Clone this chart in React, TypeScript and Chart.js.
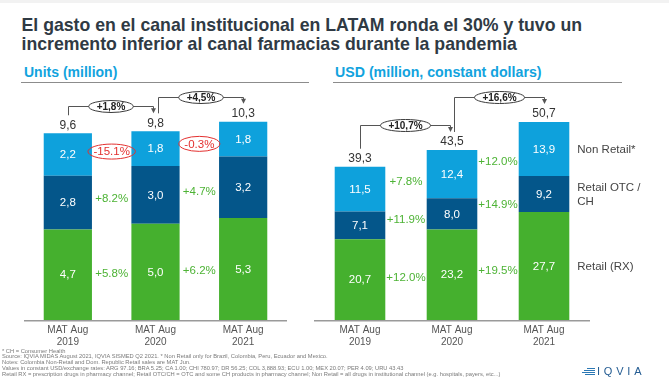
import React, { useEffect, useRef } from "react";
import { Chart, registerables } from "chart.js";

Chart.register(...registerables);

const FONT = '"Liberation Sans", Arial, Helvetica, sans-serif';

// ---- shared ----
const categories: string[][] = [
  ["MAT Aug", "2019"],
  ["MAT Aug", "2020"],
  ["MAT Aug", "2021"],
];
const seriesNames = ["Retail (RX)", "Retail OTC / CH", "Non Retail*"];
const legendLines: string[][] = [["Retail (RX)"], ["Retail OTC /", "CH"], ["Non Retail*"]];
const seriesColors = ["#45b02e", "#04568a", "#0ea1dc"];

// ---- Units (million) ----
const unitsRx = [4.7, 5.0, 5.3];
const unitsOtc = [2.8, 3.0, 3.2];
const unitsNonRetail = [2.2, 1.8, 1.8];
const unitsTotals = [9.6, 9.8, 10.3];
const unitsTotalGrowth = ["+1,8%", "+4,5%"];
const unitsRxGrowth = ["+5.8%", "+6.2%"];
const unitsOtcGrowth = ["+8.2%", "+4.7%"];
const unitsNonRetailGrowth = ["-15.1%", "-0.3%"];

// ---- USD (million, constant dollars) ----
const usdRx = [20.7, 23.2, 27.7];
const usdOtc = [7.1, 8.0, 9.2];
const usdNonRetail = [11.5, 12.4, 13.9];
const usdTotals = [39.3, 43.5, 50.7];
const usdTotalGrowth = ["+10,7%", "+16,6%"];
const usdRxGrowth = ["+12.0%", "+19.5%"];
const usdOtcGrowth = ["+11.9%", "+14.9%"];
const usdNonRetailGrowth = ["+7.8%", "+12.0%"];

const footnotes = [
  "* CH = Consumer Health",
  "Source: IQVIA MIDAS August 2021, IQVIA SISMED Q2 2021. * Non Retail only for Brazil, Colombia, Peru, Ecuador and Mexico.",
  "Notes: Colombia Non-Retail and Dom. Republic Retail sales are MAT Jun.",
  "Values in constant USD/exchange rates: ARG 97.16; BRA 5.25; CA 1.00; CHI 780.97; DR 56.25; COL 3,888.93; ECU 1.00; MEX 20.07; PER 4.09; URU 43.43",
  "Retail RX = prescription drugs in pharmacy channel; Retail OTC/CH = OTC and some CH products in pharmacy channel; Non Retail = all drugs in institutional channel (e.g. hospitals, payers, etc...)",
];

type PanelCfg = {
  segs: number[][];
  totals: number[];
  totalGrowth: string[];
  growth: string[][];
  red: boolean[];
  legend: boolean;
};

function fmt(v: number) {
  return v.toFixed(1).replace(".", ",");
}

function overlayPlugin(p: PanelCfg) {
  return {
    id: "overlay",
    afterDatasetsDraw(chart: any) {
      const ctx = chart.ctx as CanvasRenderingContext2D;
      const area = chart.chartArea;
      const bar = (k: number, i: number) => chart.getDatasetMeta(k).data[i] as any;
      const mid = (k: number, i: number) => {
        const b = bar(k, i);
        return (b.y + b.base) / 2;
      };
      const n = p.totals.length;
      const topK = p.segs.length - 1;
      ctx.save();
      // baseline
      ctx.strokeStyle = "#9a9a9a";
      ctx.lineWidth = 1.5;
      ctx.beginPath();
      ctx.moveTo(area.left, area.bottom + 0.75);
      ctx.lineTo(area.right, area.bottom + 0.75);
      ctx.stroke();

      ctx.textAlign = "center";
      ctx.textBaseline = "middle";
      // values inside
      ctx.fillStyle = "#ffffff";
      ctx.font = `11.5px ${FONT}`;
      p.segs.forEach((vals, k) =>
        vals.forEach((v, i) => {
          const b = bar(k, i);
          ctx.fillText(fmt(v), b.x, mid(k, i) + 0.5);
        })
      );
      // totals
      ctx.fillStyle = "#333333";
      ctx.font = `12px ${FONT}`;
      p.totals.forEach((t, i) => {
        const b = bar(topK, i);
        ctx.fillText(fmt(t), b.x, b.y - 8);
      });
      // x labels
      ctx.fillStyle = "#555555";
      ctx.font = `10px ${FONT}`;
      categories.forEach((lines, i) => {
        const b = bar(0, i);
        lines.forEach((l, j) => ctx.fillText(l, b.x, area.bottom + 10.5 + j * 11.5));
      });
      // growth labels between bars
      p.growth.forEach((g, k) =>
        g.forEach((txt, i) => {
          const x = (bar(k, i).x + bar(k, i + 1).x) / 2;
          const y = (mid(k, i) + mid(k, i + 1)) / 2;
          ctx.font = `11.5px ${FONT}`;
          if (p.red[k]) {
            const tw = ctx.measureText(txt).width;
            ctx.beginPath();
            ctx.ellipse(x, y, tw / 2 + 5.5, 7.5, 0, 0, Math.PI * 2);
            ctx.strokeStyle = "#e3302f";
            ctx.lineWidth = 1;
            ctx.stroke();
            ctx.fillStyle = "#e3302f";
          } else {
            ctx.fillStyle = "#4db335";
          }
          ctx.fillText(txt, x, y + 0.5);
        })
      );
      // total growth connectors
      p.totalGrowth.forEach((txt, i) => {
        const b0 = bar(topK, i);
        const b1 = bar(topK, i + 1);
        const sx = Math.round(b0.x + (i > 0 ? 2 : 0)) + 0.5;
        const ax = Math.round(b1.x - (i + 1 < n - 1 ? 2.5 : 0)) + 0.5;
        const sy = b0.y - 18;
        const ay = b1.y - 18;
        const ly = Math.round(Math.min(sy, ay) - 7) + 0.5;
        ctx.strokeStyle = "#555555";
        ctx.lineWidth = 1;
        ctx.beginPath();
        ctx.moveTo(sx, sy);
        ctx.lineTo(sx, ly);
        ctx.lineTo(ax, ly);
        ctx.lineTo(ax, ay - 4);
        ctx.stroke();
        ctx.fillStyle = "#555555";
        ctx.beginPath();
        ctx.moveTo(ax - 2.5, ay - 5);
        ctx.lineTo(ax + 2.5, ay - 5);
        ctx.lineTo(ax, ay);
        ctx.closePath();
        ctx.fill();
        ctx.font = `bold 10px ${FONT}`;
        const tw = ctx.measureText(txt).width;
        const cx = (sx + ax) / 2;
        ctx.beginPath();
        ctx.ellipse(cx, ly, tw / 2 + 8, 6, 0, 0, Math.PI * 2);
        ctx.fillStyle = "#ffffff";
        ctx.fill();
        ctx.strokeStyle = "#3a3a3a";
        ctx.stroke();
        ctx.fillStyle = "#222222";
        ctx.fillText(txt, cx, ly + 0.5);
      });
      // legend
      if (p.legend) {
        ctx.textAlign = "left";
        ctx.fillStyle = "#444444";
        ctx.font = `11.5px ${FONT}`;
        legendLines.forEach((lines, k) => {
          const b = bar(k, n - 1);
          const x = b.x + b.width / 2 + 8;
          const y = mid(k, n - 1);
          lines.forEach((l, j) => ctx.fillText(l, x, y + (j - (lines.length - 1) / 2) * 14.4 + 0.5));
        });
      }
      ctx.restore();
    },
  };
}

type PanelProps = {
  left: number;
  width: number;
  max: number;
  padding: { left: number; right: number; top: number; bottom: number };
  cfg: PanelCfg;
};

function BarPanel({ left, width, max, padding, cfg }: PanelProps) {
  const ref = useRef<HTMLCanvasElement>(null);
  useEffect(() => {
    const chart = new Chart(ref.current!, {
      type: "bar",
      data: {
        labels: categories.map((c) => c.join(" ")),
        datasets: seriesNames.map((name, k) => ({
          label: name,
          data: cfg.segs[k],
          backgroundColor: seriesColors[k],
          borderWidth: 0,
          barPercentage: 0.55,
          categoryPercentage: 1,
          stack: "s",
        })),
      },
      options: {
        responsive: false,
        animation: false,
        layout: { padding },
        plugins: { legend: { display: false }, tooltip: { enabled: false } },
        scales: {
          x: { stacked: true, display: false },
          y: { stacked: true, display: false, min: 0, max },
        },
      },
      plugins: [overlayPlugin(cfg)],
    });
    return () => chart.destroy();
  }, []);
  return (
    <canvas
      ref={ref}
      width={width}
      height={385}
      style={{ position: "absolute", left, top: 0, width, height: 385 }}
    />
  );
}

const unitsCfg: PanelCfg = {
  segs: [unitsRx, unitsOtc, unitsNonRetail],
  totals: unitsTotals,
  totalGrowth: unitsTotalGrowth,
  growth: [unitsRxGrowth, unitsOtcGrowth, unitsNonRetailGrowth],
  red: [false, false, true],
  legend: false,
};

const usdCfg: PanelCfg = {
  segs: [usdRx, usdOtc, usdNonRetail],
  totals: usdTotals,
  totalGrowth: usdTotalGrowth,
  growth: [usdRxGrowth, usdOtcGrowth, usdNonRetailGrowth],
  red: [false, false, false],
  legend: true,
};

export default function App() {
  useEffect(() => {
    document.body.style.margin = "0";
  }, []);
  const abs: React.CSSProperties = { position: "absolute", whiteSpace: "nowrap" };
  return (
    <div
      style={{
        position: "fixed",
        left: 0,
        top: 0,
        width: 669,
        height: 385,
        background: "#ffffff",
        overflow: "hidden",
        fontFamily: FONT,
      }}
    >
      <div style={{ ...abs, left: 0, top: 0, width: 669, height: 3, background: "#f2f2f2" }} />
      <div
        style={{
          ...abs,
          left: 21.5,
          top: 15.5,
          fontSize: 17.7,
          lineHeight: "19.2px",
          fontWeight: "bold",
          color: "#2f3a44",
        }}
      >
        El gasto en el canal institucional en LATAM ronda el 30% y tuvo un
        <br />
        incremento inferior al canal farmacias durante la pandemia
      </div>
      <div style={{ ...abs, left: 24, top: 65, fontSize: 14, lineHeight: "14px", fontWeight: "bold", color: "#12a3de" }}>
        Units (million)
      </div>
      <div style={{ ...abs, left: 335, top: 65, fontSize: 14.2, lineHeight: "14px", fontWeight: "bold", color: "#12a3de" }}>
        USD (million, constant dollars)
      </div>
      <div style={{ ...abs, left: 21, top: 82, width: 288, borderTop: "1.5px solid #8c8c8c" }} />
      <div style={{ ...abs, left: 333, top: 82, width: 289, borderTop: "1.5px solid #8c8c8c" }} />

      <BarPanel
        left={0}
        width={310}
        max={12}
        padding={{ left: 24, right: 23, top: 89, bottom: 65 }}
        cfg={unitsCfg}
      />
      <BarPanel
        left={310}
        width={359}
        max={60}
        padding={{ left: 4, right: 79, top: 86, bottom: 65 }}
        cfg={usdCfg}
      />

      <div style={{ ...abs, left: 2, top: 348.5, fontSize: 5.75, lineHeight: "5.85px", color: "#7a7a7a" }}>
        {footnotes.map((f, i) => (
          <div key={i}>{f}</div>
        ))}
      </div>

      <div style={{ ...abs, left: 582, top: 368, width: 14, height: 8 }}>
        {[0, 2, 4, 6].map((y, i) => (
          <div
            key={i}
            style={{
              position: "absolute",
              right: 1,
              top: y,
              width: [8, 11, 13, 10][i],
              height: 1,
              background: "#2b78b4",
            }}
          />
        ))}
      </div>
      <div
        style={{
          ...abs,
          left: 597,
          top: 366,
          fontSize: 11,
          lineHeight: "11px",
          letterSpacing: 3.8,
          color: "#245c92",
        }}
      >
        IQVIA
      </div>
    </div>
  );
}
